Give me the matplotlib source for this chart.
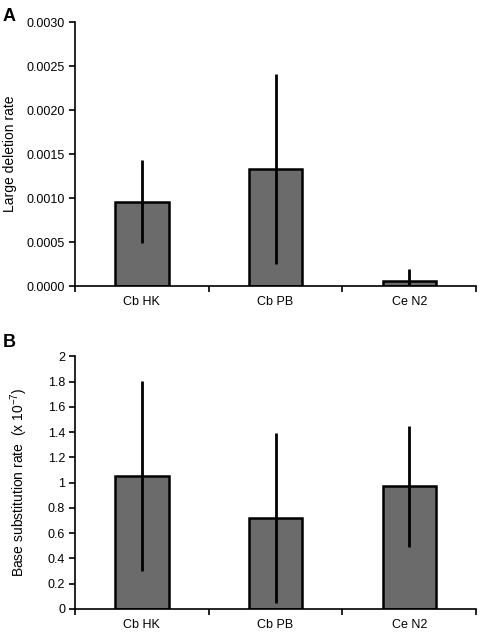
import matplotlib
matplotlib.use("Agg")
import matplotlib.pyplot as plt
import numpy as np
from matplotlib.ticker import FuncFormatter, FixedLocator

plt.rcParams["font.family"] = ["Liberation Sans", "DejaVu Sans"]
plt.rcParams["font.size"] = 9
plt.rcParams["mathtext.fontset"] = "custom"
plt.rcParams["mathtext.rm"] = "Liberation Sans"
plt.rcParams["axes.unicode_minus"] = False

strains = ["Cb HK", "Cb PB", "Ce N2"]

# panel A - large deletion rate
deletion_rate = [0.00096, 0.00133, 0.00006]
deletion_err = [0.00047, 0.00108, 0.00013]

# panel B - base substitution rate (x 10^-7)
substitution_rate = [1.055, 0.722, 0.970]
substitution_err = [0.752, 0.675, 0.480]

bar_color = "#6b6b6b"
x = np.arange(1, len(strains) + 1)

fig = plt.figure(figsize=(4.83, 6.33), dpi=100)
ax_a = fig.add_axes([0.155, 0.548, 0.831, 0.417])
ax_b = fig.add_axes([0.155, 0.038, 0.831, 0.399])


def style_axis(ax):
    ax.spines["top"].set_visible(False)
    ax.spines["right"].set_visible(False)
    ax.spines["left"].set_linewidth(1.2)
    ax.spines["bottom"].set_linewidth(1.2)
    ax.set_xlim(0.5, len(strains) + 0.5)
    ax.set_xticks(x)
    ax.set_xticklabels(strains)
    ax.tick_params(axis="x", which="major", length=0, pad=7)
    ax.xaxis.set_minor_locator(FixedLocator(np.arange(0.5, len(strains) + 1, 1)))
    ax.tick_params(axis="x", which="minor", length=4, width=1.2, direction="out")
    ax.tick_params(axis="y", length=4, width=1.2, direction="out", pad=3)


# Panel A
ax_a.bar(x, deletion_rate, width=0.4, color=bar_color, edgecolor="black",
         linewidth=1.8, zorder=2)
ax_a.errorbar(x, deletion_rate, yerr=deletion_err, fmt="none", ecolor="black",
              elinewidth=2, capsize=0, zorder=3)
ax_a.set_ylim(0, 0.003)
ax_a.set_yticks(np.arange(0, 0.00301, 0.0005))
ax_a.yaxis.set_major_formatter(FuncFormatter(lambda v, p: "%.4f" % v))
ax_a.set_ylabel("Large deletion rate", fontsize=10, labelpad=7)
style_axis(ax_a)
fig.text(0.005, 0.988, "A", fontsize=13, fontweight="bold", va="top")

# Panel B
ax_b.bar(x, substitution_rate, width=0.4, color=bar_color, edgecolor="black",
         linewidth=1.8, zorder=2)
ax_b.errorbar(x, substitution_rate, yerr=substitution_err, fmt="none",
              ecolor="black", elinewidth=2, capsize=0, zorder=3)
ax_b.set_ylim(0, 2)
ax_b.set_yticks(np.arange(0, 2.01, 0.2))
ax_b.yaxis.set_major_formatter(FuncFormatter(lambda v, p: "%g" % round(v, 1)))
ax_b.set_ylabel("Base substitution rate  (x 10$^{\\mathregular{-7}}$)", fontsize=10,
                labelpad=13)
style_axis(ax_b)
fig.text(0.005, 0.473, "B", fontsize=13, fontweight="bold", va="top")

plt.savefig("out.png", dpi=100)
